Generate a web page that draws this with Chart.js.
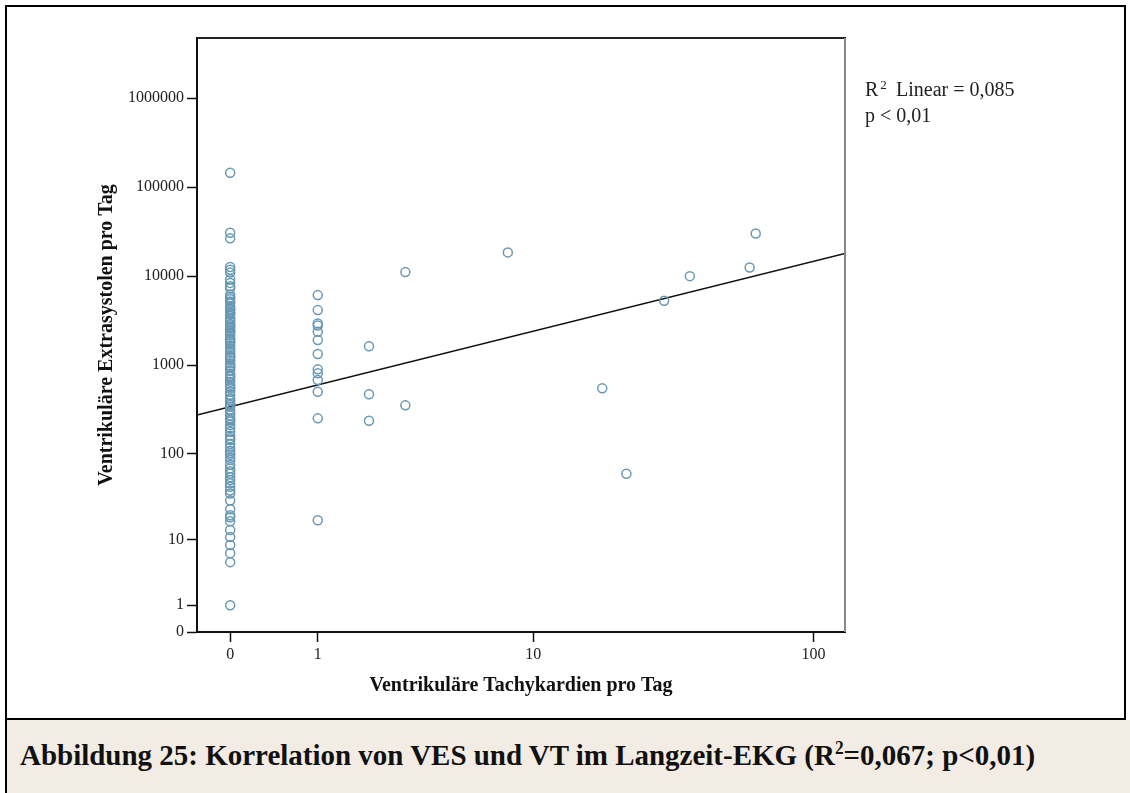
<!DOCTYPE html>
<html>
<head>
<meta charset="utf-8">
<script src="https://cdn.jsdelivr.net/npm/chart.js@4.4.0/dist/chart.umd.min.js"></script>
<style>
  body { margin: 0; background: #fff; width: 1130px; height: 793px; overflow: hidden; position: relative; }
  #frame { position: absolute; left: 5px; top: 5px; width: 1117px; height: 711px; border: 2px solid #000; }
  #myChart { position: absolute; left: 0; top: 0; }
  #caption { position: absolute; left: 5px; top: 720px; right: 0; bottom: 0; background: #f2ece4; border-left: 2px solid #000; }
  #caption span { position: absolute; left: 13px; top: 18px; font: bold 30px "Liberation Serif", serif; color: #111;
                  white-space: nowrap; transform-origin: left center; }
  #caption sup { font-size: 18px; }
</style>
</head>
<body>
<div id="frame"></div>
<canvas id="myChart" width="1130" height="720"></canvas>
<div id="caption"><span id="capText">Abbildung 25: Korrelation von VES und VT im Langzeit-EKG (R<sup>2</sup>=0,067; p&lt;0,01)</span></div>

<script>
// tick labels (raw counts, axes use log10(n + 1))
var vtTicks = [0, 1, 10, 100];
var vesTicks = [0, 1, 10, 100, 1000, 10000, 100000, 1000000];

// VES per day for patients without VT
var vesAtVt0 = [145000, 30700, 26600, 12700, 11800, 11000, 9200, 8400, 7700, 7300, 6200, 5800, 5500, 5200,
    4950, 4500, 4300, 4150, 3900, 3800, 3700, 3370, 3250, 3100, 2900, 2800, 2700, 2600, 2450, 2380, 2290,
    2150, 2000, 1900, 1830, 1760, 1650, 1550, 1460, 1380, 1280, 1240, 1200, 1125, 1050, 990, 960, 930, 870,
    800, 760, 735, 690, 648, 600, 570, 546, 500, 459, 420, 400, 370, 355, 340, 311, 290, 270, 251, 240, 230,
    211, 195, 177, 160, 150, 143, 130, 117, 108, 102, 97, 90, 85, 75, 68, 63, 59, 54, 50, 46, 42, 38, 35,
    29, 23, 19.5, 18.5, 16.6, 13, 10.7, 8.5, 6.7, 5.1, 1];

// VES per day for patients with 1 VT
var vesAtVt1 = [6120, 4150, 2940, 2780, 2370, 1910, 1330, 895, 807, 678, 500, 251, 17];

// remaining patients
var vtOther = [2, 2, 2, 3, 3, 8, 18, 22, 30, 37, 60, 63];
var vesOther = [1630, 470, 236, 11100, 352, 18500, 547, 59, 5280, 10000, 12500, 30200];

// linear fit in log space
var fitIntercept = 2.531;
var fitSlope = 0.816;
var r2Linear = '0,085';
var pText = 'p < 0,01';

var xMin = -0.114, xMax = 2.113;
var yMin = 0, yMax = 6.677;

function lg(v) { return Math.log10(v + 1); }

function buildPoints() {
    var pts = [];
    vesAtVt0.forEach(function (v) { pts.push({ x: lg(0), y: lg(v) }); });
    vesAtVt1.forEach(function (v) { pts.push({ x: lg(1), y: lg(v) }); });
    vtOther.forEach(function (vt, i) { pts.push({ x: lg(vt), y: lg(vesOther[i]) }); });
    return pts;
}

var plotFrame = {
    id: 'plotFrame',
    afterDatasetsDraw: function (chart) {
        var ctx = chart.ctx, a = chart.chartArea;
        ctx.save();
        ctx.lineWidth = 2;
        ctx.strokeStyle = '#222';
        ctx.beginPath();
        ctx.moveTo(a.left, a.top);
        ctx.lineTo(a.right + 1, a.top);
        ctx.stroke();
        ctx.strokeStyle = '#888';
        ctx.beginPath();
        ctx.moveTo(a.right, a.top);
        ctx.lineTo(a.right, a.bottom);
        ctx.stroke();
        ctx.restore();
    }
};

var fitLabel = {
    id: 'fitLabel',
    afterDraw: function (chart) {
        var ctx = chart.ctx;
        var x = 865;
        ctx.save();
        ctx.fillStyle = '#222';
        ctx.textBaseline = 'alphabetic';
        ctx.font = '20px "Liberation Serif"';
        ctx.fillText('R', x, 96);
        var w = ctx.measureText('R').width;
        ctx.font = '13px "Liberation Serif"';
        ctx.fillText('2', x + w + 2, 89);
        ctx.font = '20px "Liberation Serif"';
        ctx.fillText('Linear = ' + r2Linear, x + 31, 96);
        ctx.fillText(pText, x, 122);
        ctx.restore();
    }
};

function DrawChart() {
    Chart.defaults.font.family = '"Liberation Serif", serif';
    var ctx = document.getElementById('myChart').getContext('2d');

    var myChart = new Chart(ctx, {
        type: 'scatter',
        data: {
            datasets: [{
                label: 'VES',
                data: buildPoints(),
                pointStyle: 'circle',
                pointRadius: 4.5,
                borderWidth: 1.5,
                borderColor: 'rgb(104, 152, 180)',
                backgroundColor: 'rgba(0,0,0,0)'
            }, {
                label: 'Fit',
                type: 'line',
                data: [
                    { x: xMin, y: fitIntercept + fitSlope * xMin },
                    { x: xMax, y: fitIntercept + fitSlope * xMax }
                ],
                borderColor: '#111',
                borderWidth: 1.5,
                pointRadius: 0
            }]
        },
        options: {
            responsive: false,
            animation: false,
            layout: { padding: { left: 0, top: 38, right: 285, bottom: 0 } },
            plugins: { legend: { display: false }, tooltip: { enabled: false } },
            scales: {
                x: {
                    type: 'linear',
                    min: xMin,
                    max: xMax,
                    afterBuildTicks: function (scale) {
                        scale.ticks = vtTicks.map(function (v) { return { value: lg(v) }; });
                    },
                    afterFit: function (scale) { scale.height = 88; },
                    ticks: {
                        autoSkip: false,
                        maxRotation: 0,
                        padding: 3,
                        color: '#222',
                        font: { size: 16 },
                        callback: function (value, index) { return String(vtTicks[index]); }
                    },
                    grid: { drawOnChartArea: false, tickLength: 10, tickColor: '#111', tickWidth: 1.5 },
                    border: { display: true, color: '#111', width: 2 },
                    title: {
                        display: true,
                        text: 'Ventrikuläre Tachykardien pro Tag',
                        color: '#111',
                        font: { size: 20, weight: 'bold' },
                        padding: { top: 0, bottom: 22 }
                    }
                },
                y: {
                    type: 'linear',
                    min: yMin,
                    max: yMax,
                    afterBuildTicks: function (scale) {
                        scale.ticks = vesTicks.map(function (v) { return { value: lg(v) }; });
                    },
                    afterFit: function (scale) { scale.width = 197; },
                    ticks: {
                        autoSkip: false,
                        padding: 3,
                        color: '#222',
                        font: { size: 16 },
                        callback: function (value, index) { return String(vesTicks[index]); }
                    },
                    grid: { drawOnChartArea: false, tickLength: 10, tickColor: '#111', tickWidth: 1.5 },
                    border: { display: true, color: '#111', width: 2 },
                    title: {
                        display: true,
                        text: 'Ventrikuläre Extrasystolen pro Tag',
                        color: '#111',
                        font: { size: 20, weight: 'bold' },
                        padding: { top: 95, bottom: 0 }
                    }
                }
            }
        },
        plugins: [plotFrame, fitLabel]
    });
}

// squeeze the caption to its line width
function FitCaption() {
    var el = document.getElementById('capText');
    el.style.transform = 'scaleX(' + (1015 / el.offsetWidth) + ')';
}

DrawChart();
FitCaption();
</script>
</body>
</html>
